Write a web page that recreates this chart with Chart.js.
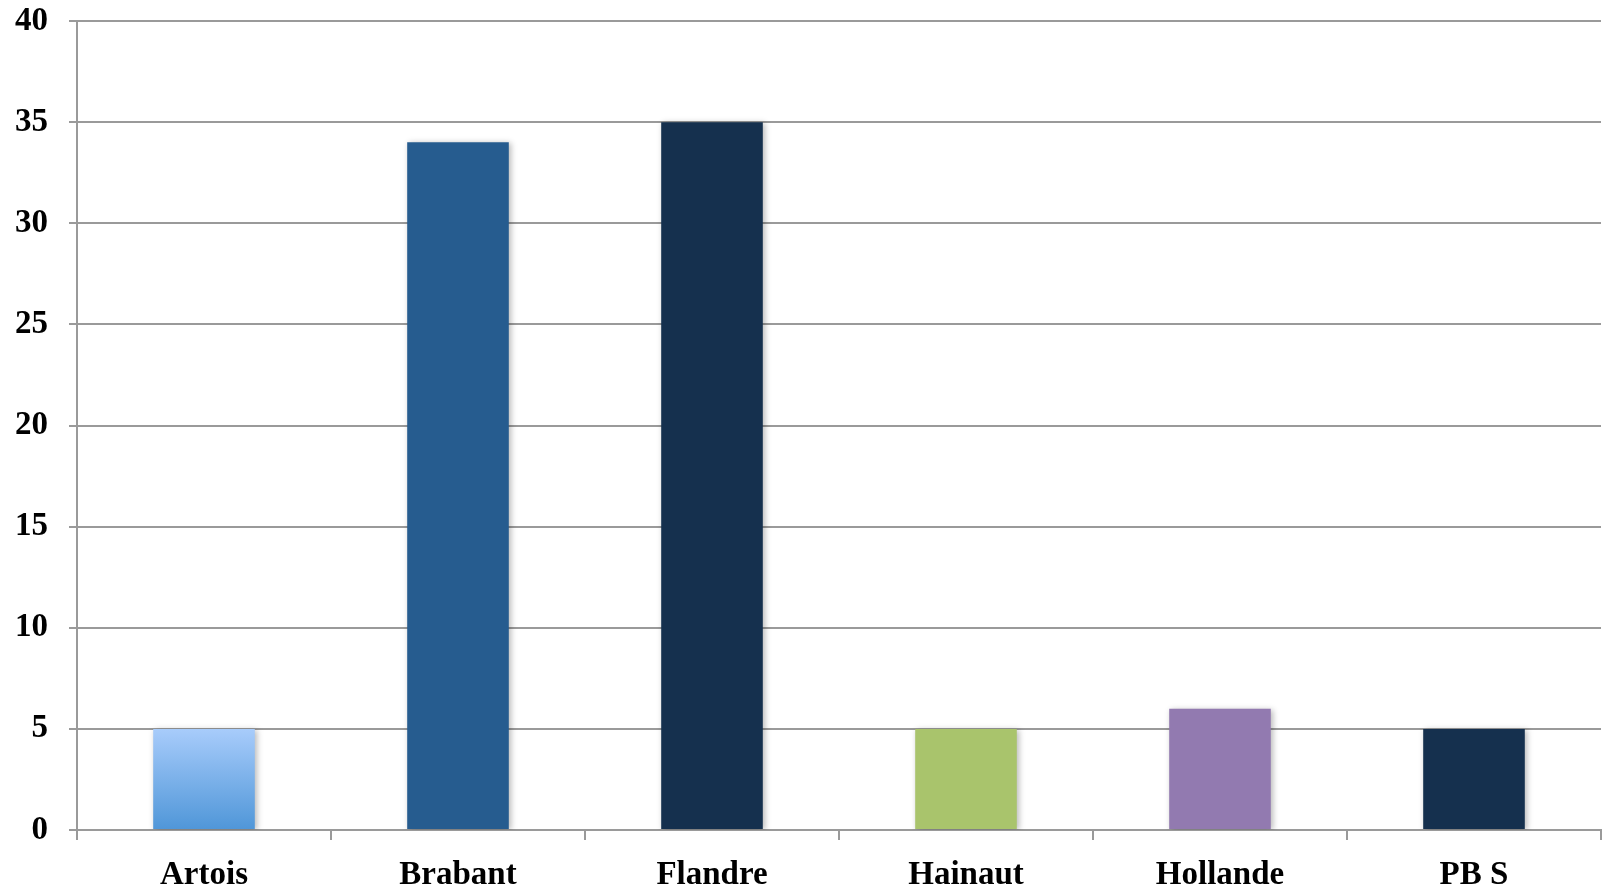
<!DOCTYPE html>
<html>
<head>
<meta charset="utf-8">
<script src="https://cdn.jsdelivr.net/npm/chart.js@4"></script>
<style>
  html, body { margin: 0; padding: 0; background: #fff; overflow: hidden; }
  canvas { display: block; }
</style>
</head>
<body>
<canvas id="chart" width="1614" height="894" style="width:1614px;height:894px"></canvas>
<script>
const categories = ['Artois', 'Brabant', 'Flandre', 'Hainaut', 'Hollande', 'PB S'];
const values = [5, 34, 35, 5, 6, 5];
const barColors = [null, '#265C8F', '#15304E', '#A9C46C', '#927AB0', '#15304E'];
const yTicks = [0, 5, 10, 15, 20, 25, 30, 35, 40];

const gridGray = '#9a9a9a';
const font = { family: 'Liberation Serif', size: 33, weight: 'bold' };

// soft drop shadow under the bars
const barShadow = {
    id: 'barShadow',
    beforeDatasetsDraw(chart) {
        const c = chart.ctx;
        c.save();
        c.shadowColor = 'rgba(0,0,0,0.28)';
        c.shadowBlur = 6;
        c.shadowOffsetX = 2;
        c.shadowOffsetY = 1;
    },
    afterDatasetsDraw(chart) {
        chart.ctx.restore();
    }
};

function fillFor(context) {
    const i = context.dataIndex;
    if (barColors[i]) return barColors[i];
    const chart = context.chart;
    if (!chart.chartArea) return '#7fb0e8';
    const y = chart.scales.y;
    const g = chart.ctx.createLinearGradient(0, y.getPixelForValue(values[i]), 0, y.getPixelForValue(0));
    g.addColorStop(0, '#A8CCFB');
    g.addColorStop(1, '#4F96D8');
    return g;
}

new Chart(document.getElementById('chart'), {
    type: 'bar',
    data: {
        labels: categories,
        datasets: [{
            data: values,
            backgroundColor: fillFor,
            borderWidth: 0,
            categoryPercentage: 0.40,
            barPercentage: 1
        }]
    },
    options: {
        responsive: false,
        devicePixelRatio: 1,
        animation: false,
        layout: { padding: { left: 15, right: 13, top: 21, bottom: 0 } },
        plugins: { legend: { display: false }, tooltip: { enabled: false } },
        scales: {
            x: {
                // chart.js counts the tick padding twice, keep the axis box tight
                afterFit(scale) {
                    scale.paddingLeft = 0;
                    scale.paddingRight = 0;
                    scale.height = 64;
                },
                grid: {
                    offset: true,
                    drawOnChartArea: false,
                    drawTicks: true,
                    tickLength: 10,
                    color: gridGray,
                    lineWidth: 2
                },
                border: { color: gridGray, width: 2 },
                ticks: { color: '#000', font: font, padding: 16 }
            },
            y: {
                min: 0,
                max: 40,
                afterBuildTicks(axis) {
                    axis.ticks = yTicks.map(v => ({ value: v }));
                },
                afterFit(scale) {
                    scale.width = 62;
                    scale.paddingTop = 20;
                    scale.paddingBottom = 20;
                },
                grid: {
                    color: gridGray,
                    lineWidth: 2,
                    tickLength: 8
                },
                border: { color: gridGray, width: 2 },
                ticks: { color: '#000', font: font, padding: 21 }
            }
        }
    },
    plugins: [barShadow]
});
</script>
</body>
</html>
